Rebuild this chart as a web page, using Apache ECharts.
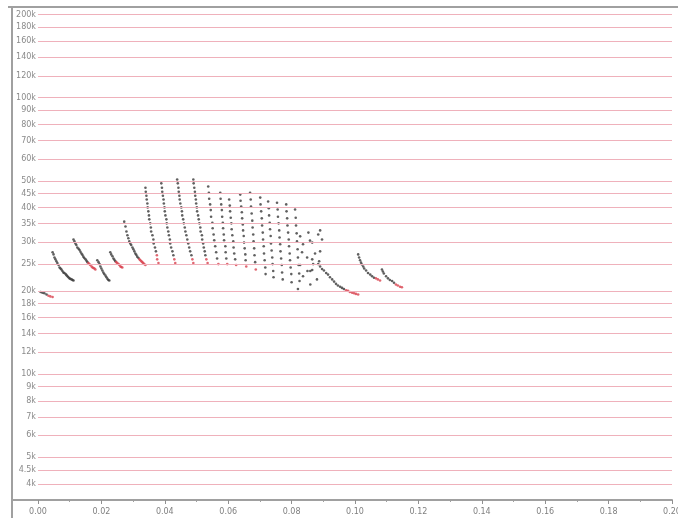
<!DOCTYPE html>
<html>
<head>
<meta charset="utf-8">
<script src="https://cdn.jsdelivr.net/npm/echarts@6/dist/echarts.min.js"></script>
<style>
  html, body { margin: 0; padding: 0; background: #fff; }
  #chart { width: 678px; height: 518px; }
</style>
</head>
<body>
<div id="chart"></div>
<script>
// frequency gridlines (kHz)
const yTicks = [4, 4.5, 5, 6, 7, 8, 9, 10, 12, 14, 16, 18, 20, 25, 30, 35, 40, 45, 50, 60, 70, 80, 90, 100, 120, 140, 160, 180, 200]

// pulses: [time ms, frequency kHz]; dark body + red tail
const p01 = [[0.8, 19.8], [1.4, 19.7], [2.0, 19.6], [2.7, 19.4]]
const t01 = [[3.3, 19.2], [3.9, 19.1], [4.6, 19.0]]
const p02 = [[4.6, 27.6], [4.9, 27.1], [5.2, 26.4], [5.5, 26.0], [5.8, 25.6], [6.1, 25.2], [6.5, 24.8], [6.8, 24.3], [7.1, 24.1], [7.4, 23.9], [7.7, 23.6], [8.0, 23.3], [8.3, 23.2], [8.7, 23.0], [9.0, 22.8], [9.3, 22.6], [9.6, 22.4], [9.9, 22.2], [10.2, 22.1], [10.6, 22.0], [10.9, 21.9], [11.2, 21.8]]
const p03 = [[11.2, 30.7], [11.5, 30.2], [11.8, 29.7], [12.1, 29.3], [12.4, 28.7], [12.8, 28.4], [13.1, 28.1], [13.4, 27.7], [13.7, 27.3], [14.0, 27.0], [14.3, 26.6], [14.6, 26.3], [15.0, 26.0], [15.3, 25.7], [15.6, 25.4]]
const t03 = [[15.9, 25.2], [16.2, 25.0], [16.5, 24.8], [16.9, 24.5], [17.2, 24.3], [17.5, 24.2], [17.8, 24.1], [18.1, 23.9]]
const p04 = [[18.7, 25.8], [19.1, 25.4], [19.4, 25.0], [19.7, 24.5], [20.0, 24.1], [20.3, 23.7], [20.6, 23.3], [20.9, 23.0], [21.3, 22.7], [21.6, 22.4], [21.9, 22.1], [22.2, 21.9], [22.5, 21.8]]
const p05 = [[22.8, 27.6], [23.1, 27.1], [23.5, 26.7], [23.8, 26.2], [24.1, 25.9], [24.4, 25.6]]
const t05 = [[24.7, 25.4], [25.0, 25.2], [25.4, 25.0], [25.7, 24.8], [26.0, 24.5], [26.3, 24.4], [26.6, 24.3]]
const p06 = [[27.2, 35.6], [27.6, 34.2], [27.9, 32.8], [28.2, 31.8], [28.5, 31.0], [28.8, 30.2], [29.1, 29.7], [29.4, 29.3], [29.8, 28.7], [30.1, 28.3], [30.4, 27.8], [30.7, 27.3], [31.0, 27.0], [31.3, 26.6], [31.7, 26.3]]
const t06 = [[32.0, 26.0], [32.3, 25.8], [32.6, 25.6], [32.9, 25.4], [33.2, 25.2], [33.5, 25.0], [33.9, 24.8]]

// steep sweeps
const p07 = [[33.9, 47.2], [34.0, 45.7], [34.2, 44.2], [34.3, 42.8], [34.5, 41.4], [34.6, 40.1], [34.8, 38.8], [35.0, 37.5], [35.1, 36.3], [35.4, 35.1], [35.6, 33.9], [35.7, 32.8], [36.1, 31.8], [36.4, 30.7], [36.5, 29.7], [36.9, 28.7], [37.2, 27.8]]
const t07 = [[37.5, 26.9], [37.6, 26.0], [38.0, 25.2]]
const p08 = [[38.9, 49.0], [39.1, 47.2], [39.2, 45.7], [39.4, 44.2], [39.6, 42.8], [39.7, 41.4], [39.9, 40.1], [40.0, 38.8], [40.2, 37.5], [40.5, 36.3], [40.6, 35.1], [40.8, 33.9], [41.1, 32.8], [41.3, 31.8], [41.6, 30.7], [41.7, 29.7], [42.0, 28.7], [42.4, 27.8], [42.7, 26.9]]
const t08 = [[43.0, 26.0], [43.3, 25.2]]
const p09 = [[43.9, 50.6], [44.1, 49.0], [44.3, 47.2], [44.4, 45.7], [44.6, 44.2], [44.7, 42.8], [44.9, 41.4], [45.2, 40.1], [45.4, 38.8], [45.5, 37.5], [45.8, 36.3], [46.0, 35.1], [46.3, 33.9], [46.5, 32.8], [46.8, 31.8], [47.1, 30.7], [47.4, 29.7], [47.7, 28.7], [48.0, 27.8], [48.4, 26.9]]
const t09 = [[48.7, 26.0], [49.0, 25.2]]
const p10 = [[49.0, 50.6], [49.1, 49.0], [49.3, 47.2], [49.5, 45.7], [49.6, 44.2], [49.8, 42.8], [49.9, 41.4], [50.1, 40.1], [50.2, 38.8], [50.5, 37.5], [50.7, 36.3], [50.9, 35.1], [51.2, 33.9], [51.3, 32.8], [51.7, 31.8], [51.8, 30.7], [52.1, 29.7], [52.3, 28.7], [52.6, 27.8], [52.8, 26.9]]
const t10 = [[53.1, 26.0], [53.5, 25.2]]
const p11 = [[53.7, 47.7], [53.9, 45.3], [54.0, 43.1], [54.3, 41.1], [54.5, 39.2], [54.6, 37.1], [55.0, 35.3], [55.1, 33.7], [55.4, 32.0], [55.6, 30.5], [55.9, 29.0], [56.2, 27.6], [56.5, 26.2]]
const t11 = [[56.9, 25.0]]
const p12 = [[57.5, 45.3], [57.6, 43.1], [57.8, 41.1], [58.0, 39.2], [58.1, 37.1], [58.3, 35.3], [58.4, 33.7], [58.6, 32.0], [58.7, 30.5], [59.1, 29.0], [59.2, 27.6], [59.4, 26.2]]
const t12 = [[59.7, 25.0]]
const p13 = [[60.3, 42.8], [60.5, 40.7], [60.6, 38.8], [60.8, 36.8], [61.0, 35.1], [61.1, 33.4], [61.3, 31.8], [61.6, 30.2], [61.7, 28.7], [61.9, 27.3], [62.2, 26.0]]
const t13 = [[62.5, 24.8]]
const p14 = [[63.8, 44.6], [63.9, 42.4], [64.1, 40.4], [64.3, 38.5], [64.4, 36.6], [64.6, 34.8], [64.7, 33.1], [64.9, 31.6], [65.0, 29.9], [65.2, 28.5], [65.4, 27.1], [65.5, 25.8]]
const t14 = [[65.7, 24.5]]
const p15 = [[66.9, 45.3], [67.1, 42.8], [67.2, 40.4], [67.4, 38.1], [67.6, 35.9], [67.7, 33.9], [67.9, 32.0], [68.0, 30.2], [68.2, 28.5], [68.3, 26.9], [68.5, 25.4]]
const t15 = [[68.7, 23.9]]
const p16 = [[70.1, 43.5], [70.2, 41.1], [70.4, 38.8], [70.6, 36.6], [70.7, 34.5], [70.9, 32.5], [71.0, 30.7], [71.2, 29.0], [71.3, 27.3], [71.5, 25.8], [71.7, 24.3], [71.8, 23.0]]
const p17 = [[72.6, 42.1], [72.8, 39.8], [72.9, 37.5], [73.1, 35.3], [73.2, 33.4], [73.4, 31.6], [73.5, 29.7], [73.7, 28.0], [73.9, 26.4], [74.0, 25.0], [74.2, 23.6], [74.3, 22.4]]
const p18 = [[75.4, 41.7], [75.6, 39.4], [75.7, 37.1], [75.9, 35.1], [76.1, 33.1], [76.2, 31.2], [76.4, 29.5], [76.5, 27.8], [76.7, 26.2], [76.9, 24.8], [77.0, 23.3], [77.2, 22.0]]
const p19 = [[78.3, 41.1], [78.4, 38.8], [78.6, 36.6], [78.7, 34.5], [78.9, 32.5], [79.1, 30.7], [79.2, 29.0], [79.4, 27.3], [79.5, 25.8], [79.7, 24.3], [79.9, 23.0], [80.0, 21.5]]
const p20 = [[81.1, 39.4], [81.3, 36.8], [81.4, 34.5], [81.6, 32.3], [81.7, 30.2], [81.9, 28.3], [82.0, 26.4], [82.2, 24.8], [82.4, 23.1], [82.5, 21.7]]
// loose dots around the end of the sweep train
const loose = [[82.7, 31.5], [85.3, 32.5], [89.0, 33.1], [88.4, 32.0], [86.5, 29.9], [85.8, 30.4], [83.6, 29.5], [83.3, 27.6], [89.0, 27.8], [87.4, 27.3], [84.9, 26.4], [86.5, 26.0], [82.7, 24.8], [86.8, 25.0], [85.0, 23.6], [85.9, 23.6], [86.5, 23.8], [83.6, 22.6], [88.0, 22.0], [85.9, 21.1], [82.0, 20.3], [89.6, 30.7], [88.7, 25.6]]

const p21 = [[88.4, 25.0], [89.0, 24.5], [89.6, 24.0], [90.2, 23.7], [90.9, 23.2], [91.5, 22.9], [92.1, 22.4], [92.8, 22.0], [93.4, 21.6], [94.0, 21.2], [94.6, 20.9], [95.3, 20.7], [95.9, 20.5], [96.5, 20.3]]
const t21 = [[97.2, 20.1], [97.8, 20.0], [98.4, 19.8], [99.1, 19.7], [99.7, 19.6], [100.3, 19.5], [101.0, 19.4]]
const p22 = [[101.0, 27.1], [101.3, 26.4], [101.6, 25.8], [101.9, 25.3], [102.2, 24.9], [102.6, 24.5], [102.9, 24.1], [103.5, 23.7], [104.1, 23.2], [104.8, 22.9], [105.4, 22.6], [106.0, 22.3]]
const t22 = [[106.6, 22.2], [107.2, 22.0], [107.9, 21.8]]
const p23 = [[108.5, 23.9], [108.8, 23.5], [109.1, 23.1], [109.8, 22.6], [110.4, 22.2], [111.0, 21.9], [111.7, 21.7], [112.3, 21.4]]
const t23 = [[112.9, 21.1], [113.5, 20.9], [114.2, 20.7], [114.8, 20.6]]

const darkDots = [].concat(p01, p02, p03, p04, p05, p06, p07, p08, p09, p10, p11, p12, p13, p14, p15, p16, p17, p18, p19, p20, loose, p21, p22, p23)
const redDots = [].concat(t01, t03, t05, t06, t07, t08, t09, t10, t11, t12, t13, t14, t15, t21, t22, t23)

const chart = echarts.init(document.getElementById('chart'))

chart.setOption({
  backgroundColor: '#fff',
  animation: false,
  grid: { left: 38, right: 6, top: 7, bottom: 18, outerBoundsMode: 'none', containLabel: false },
  xAxis: {
    type: 'value',
    min: 0,
    max: 200,
    interval: 20,
    axisLine: { lineStyle: { color: '#a0a0a0', width: 2 } },
    axisTick: { length: 4, lineStyle: { color: '#909090' } },
    minorTick: { show: true, splitNumber: 2, length: 2, lineStyle: { color: '#a0a0a0' } },
    splitLine: { show: false },
    axisLabel: {
      color: '#808080',
      fontSize: 8,
      fontFamily: 'DejaVu Sans',
      margin: 8,
      hideOverlap: false,
      formatter: (v) => (v / 1000).toFixed(2),
    },
  },
  yAxis: {
    type: 'log',
    logBase: 10,
    min: 3.5,
    max: 213,
    axisLine: { show: false },
    axisTick: { show: false },
    axisLabel: { show: false },
    splitLine: { show: false },
  },
  graphic: [
    { type: 'line', shape: { x1: 12, y1: 6, x2: 12, y2: 518 }, style: { stroke: '#a0a0a0', lineWidth: 2 } },
    { type: 'line', shape: { x1: 8, y1: 7, x2: 678, y2: 7 }, style: { stroke: '#a0a0a0', lineWidth: 2 } },
    { type: 'line', shape: { x1: 12, y1: 500, x2: 40, y2: 500 }, style: { stroke: '#a0a0a0', lineWidth: 2 } },
  ],
  series: [
    {
      name: 'grid',
      type: 'scatter',
      data: [],
      silent: true,
      markLine: {
        silent: true,
        symbol: 'none',
        animation: false,
        lineStyle: { color: '#efb1bb', width: 1, type: 'solid' },
        label: {
          position: 'start',
          distance: 2,
          color: '#8a8a8a',
          fontSize: 8,
          fontFamily: 'DejaVu Sans',
          formatter: (p) => p.value + 'k',
        },
        emphasis: { disabled: true },
        data: yTicks.map((v) => ({ yAxis: v })),
      },
    },
    {
      name: 'body',
      type: 'scatter',
      symbolSize: 2.6,
      itemStyle: { color: '#383838' },
      silent: true,
      data: darkDots,
    },
    {
      name: 'tail',
      type: 'scatter',
      symbolSize: 2.6,
      itemStyle: { color: '#d8414d' },
      silent: true,
      data: redDots,
    },
  ],
})
</script>
</body>
</html>
